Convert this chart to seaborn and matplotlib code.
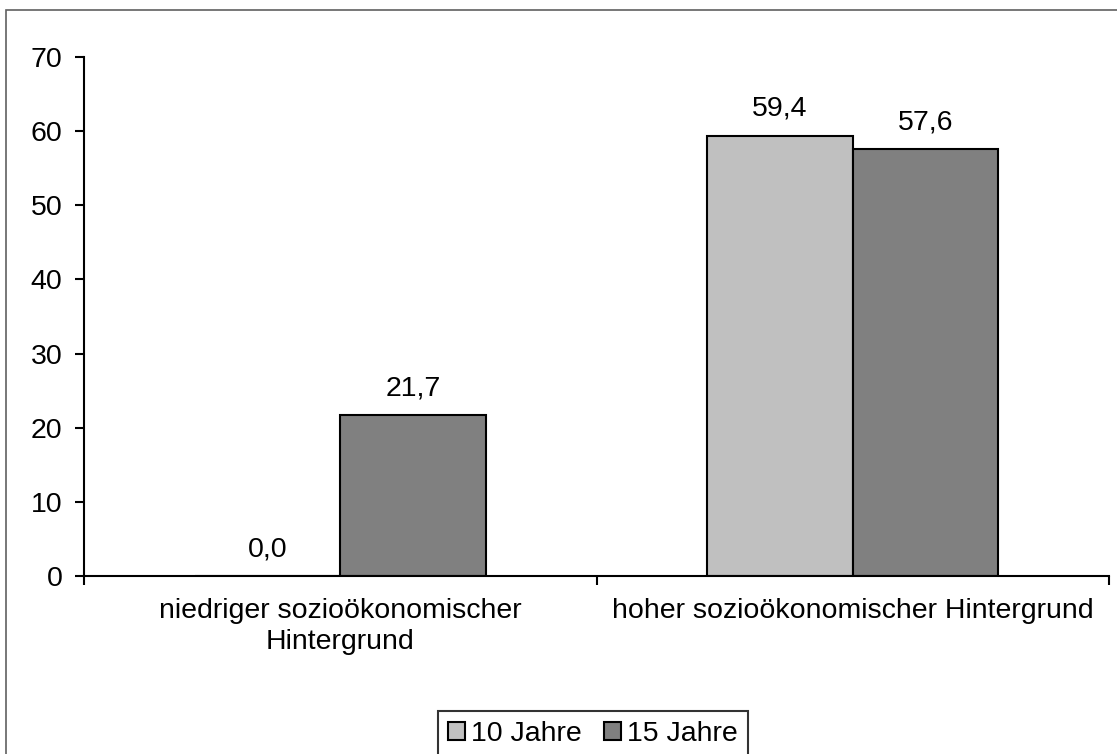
import matplotlib
matplotlib.use("Agg")
import matplotlib.pyplot as plt
import seaborn as sns
import pandas as pd
from matplotlib.patches import Rectangle

categories = ["niedriger sozioökonomischer\nHintergrund", "hoher sozioökonomischer Hintergrund"]
series_names = ["10 Jahre", "15 Jahre"]
values_10 = [0.0, 59.4]
values_15 = [21.7, 57.6]
yticks = [0, 10, 20, 30, 40, 50, 60, 70]
colors = ["#C0C0C0", "#808080"]

df = pd.DataFrame({
    "cat": categories * 2,
    "series": [series_names[0]] * 2 + [series_names[1]] * 2,
    "value": values_10 + values_15,
})

sns.set_theme(style="white")
plt.rcParams["font.family"] = ["Liberation Sans", "DejaVu Sans"]
plt.rcParams["text.color"] = "black"
plt.rcParams["xtick.color"] = "black"
plt.rcParams["ytick.color"] = "black"

FS = 20.5

fig = plt.figure(figsize=(11.17, 7.54), dpi=100)
ax = fig.add_axes([84/1117, 1 - 576/754, (1109-84)/1117, (576-57)/754])

sns.barplot(data=df, x="cat", y="value", hue="series", palette=colors,
            width=0.568, edgecolor="black", linewidth=1.5, ax=ax,
            legend=True, saturation=1)

ax.set_ylim(0, 70)
ax.set_xlim(-0.5, 1.5)
ax.set_yticks(yticks)
ax.set_yticklabels([str(v) for v in yticks], fontsize=FS)
ax.set_xticks([-0.5, 0.5, 1.5])
ax.set_xticklabels(["", "", ""])
ax.set_xticks([0, 1], minor=True)
ax.set_xticklabels(categories, minor=True, fontsize=FS, linespacing=1.25)
ax.tick_params(axis="x", which="minor", bottom=True, length=0, pad=16)
ax.tick_params(axis="x", which="major", bottom=True, length=6.5, width=1.5, direction="out")
ax.tick_params(axis="y", left=True, length=6.5, width=1.5, direction="out", pad=9)
ax.set_xlabel("")
ax.set_ylabel("")
for s in ["top", "right"]:
    ax.spines[s].set_visible(False)
for s in ["left", "bottom"]:
    ax.spines[s].set_color("black")
    ax.spines[s].set_linewidth(1.5)

for cont in ax.containers:
    labels = [f"{v:.1f}".replace(".", ",") for v in cont.datavalues]
    ax.bar_label(cont, labels=labels, padding=10, fontsize=FS)

handles, labs = ax.get_legend_handles_labels()
ax.legend_.remove()
leg = fig.legend(handles, labs, loc="upper left", bbox_to_anchor=(438/1117, 1 - 711/754),
                 ncol=2, fontsize=FS, frameon=True, fancybox=False, edgecolor="black",
                 handlelength=0.6, handleheight=0.6, handletextpad=0.2, columnspacing=0.8,
                 borderpad=0.35, borderaxespad=0)
leg.get_frame().set_linewidth(1.5)
for h in leg.legend_handles:
    h.set_edgecolor("black")
    h.set_linewidth(1.5)

fig.patches.append(Rectangle((6/1117, -0.05), 1.2, 1 - 10/754 + 0.05, transform=fig.transFigure,
                             fill=False, edgecolor="#606060", linewidth=1.2))

fig.savefig("out.png", dpi=100)
